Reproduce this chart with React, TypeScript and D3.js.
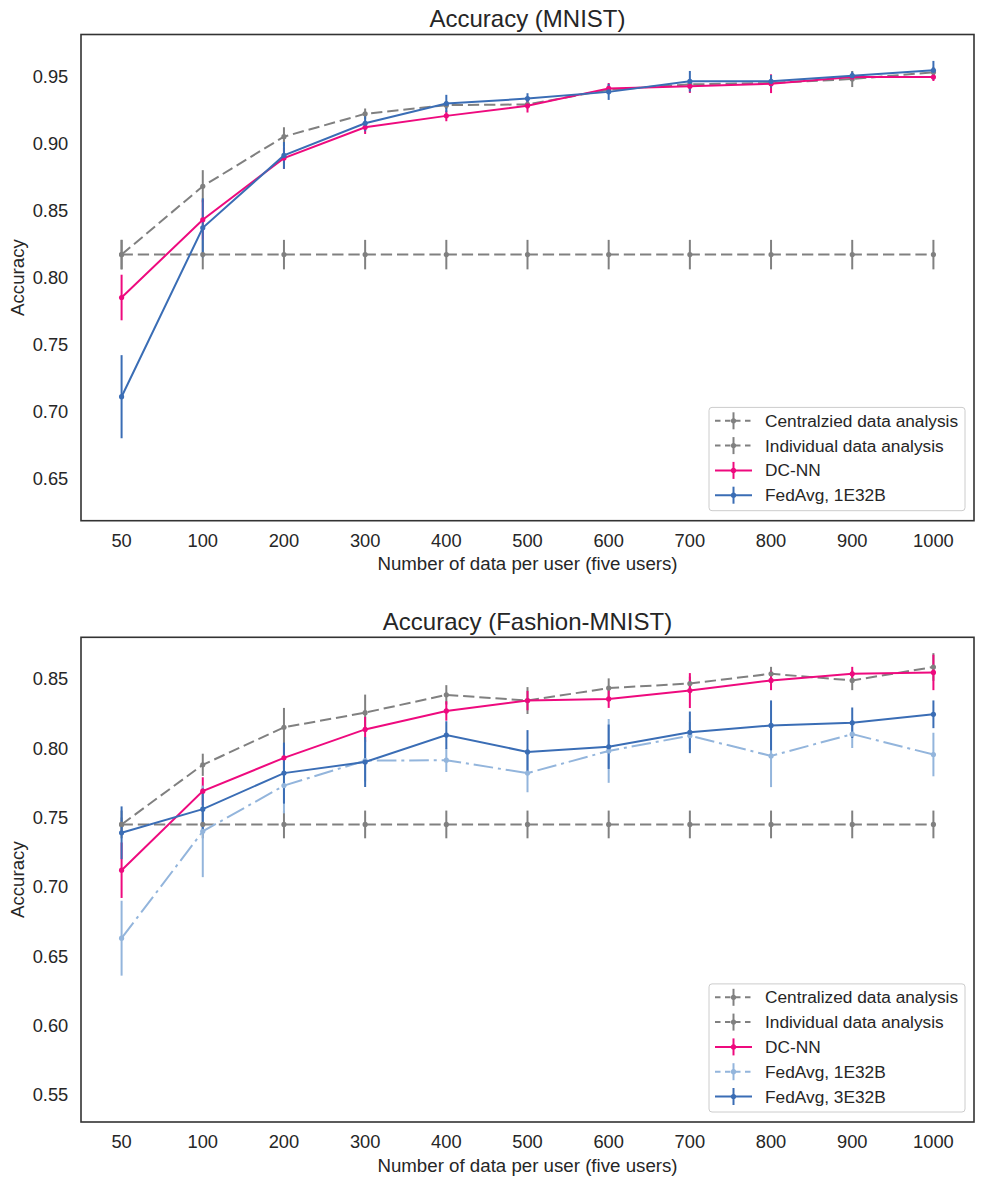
import * as d3 from "d3";
import { useEffect, useRef } from "react";

// x categories (data per user)
const sizes = ["50", "100", "200", "300", "400", "500", "600", "700", "800", "900", "1000"];

// MNIST
const mnistCentral = [0.817, 0.868, 0.905, 0.922, 0.9285, 0.929, 0.94, 0.944, 0.945, 0.948, 0.953];
const mnistCentralErr = [0.011, 0.012, 0.007, 0.004, 0.003, 0.003, 0.003, 0.003, 0.003, 0.006, 0.004];
const mnistIndividual = [0.817, 0.817, 0.817, 0.817, 0.817, 0.817, 0.817, 0.817, 0.817, 0.817, 0.817];
const mnistIndividualErr = [0.011, 0.011, 0.011, 0.011, 0.011, 0.011, 0.011, 0.011, 0.011, 0.011, 0.011];
const mnistDC = [0.785, 0.843, 0.889, 0.912, 0.9205, 0.928, 0.941, 0.9426, 0.9445, 0.9495, 0.9495];
const mnistDCErr = [0.017, 0.015, 0.008, 0.005, 0.004, 0.005, 0.004, 0.005, 0.007, 0.003, 0.003];
const mnistFed1 = [0.711, 0.837, 0.891, 0.915, 0.9297, 0.9334, 0.9384, 0.9463, 0.9463, 0.9505, 0.9545];
const mnistFed1Err = [0.031, 0.022, 0.01, 0.006, 0.0065, 0.004, 0.006, 0.0077, 0.0047, 0.003, 0.007];

// Fashion-MNIST
const fashionCentral = [0.745, 0.788, 0.815, 0.8256, 0.8384, 0.8343, 0.8433, 0.8466, 0.8536, 0.8488, 0.8585];
const fashionCentralErr = [0.005, 0.008, 0.014, 0.013, 0.007, 0.0097, 0.007, 0.005, 0.005, 0.007, 0.01];
const fashionIndividual = [0.745, 0.745, 0.745, 0.745, 0.745, 0.745, 0.745, 0.745, 0.745, 0.745, 0.745];
const fashionIndividualErr = [0.01, 0.01, 0.01, 0.01, 0.01, 0.01, 0.01, 0.01, 0.01, 0.01, 0.01];
const fashionDC = [0.712, 0.769, 0.793, 0.8135, 0.8268, 0.8343, 0.8355, 0.8415, 0.8488, 0.8536, 0.8546];
const fashionDCErr = [0.02, 0.01, 0.008, 0.009, 0.007, 0.007, 0.0065, 0.0126, 0.007, 0.005, 0.0128];
const fashionFed1 = [0.663, 0.74, 0.773, 0.791, 0.7913, 0.782, 0.798, 0.809, 0.7944, 0.8101, 0.7954];
const fashionFed1Err = [0.027, 0.033, 0.02, 0.015, 0.0085, 0.0138, 0.023, 0.01, 0.0225, 0.01, 0.0157];
const fashionFed3 = [0.739, 0.756, 0.782, 0.79, 0.8094, 0.7973, 0.801, 0.8114, 0.8164, 0.8183, 0.8244];
const fashionFed3Err = [0.019, 0.015, 0.022, 0.018, 0.01, 0.0157, 0.016, 0.015, 0.018, 0.011, 0.01];

const GRAY = "#808080";
const PINK = "#ee0a7e";
const BLUE = "#3a6db5";
const LIGHT = "#93b5dc";
const DASH = "11.3,4.9";
const DASHDOT = "19.6,4.9,3,4.9";
const TEXT = "#262626";
const FONT = "'Liberation Sans', Arial, sans-serif";

type Series = { name: string; values: number[]; errors: number[]; color: string; dash: string | null };

const panels = [
  {
    title: "Accuracy (MNIST)",
    top: 34.5,
    bottom: 520.7,
    yDomain: [0.6185, 0.9812],
    series: [
      { name: "Centralzied data analysis", values: mnistCentral, errors: mnistCentralErr, color: GRAY, dash: DASH },
      { name: "Individual data analysis", values: mnistIndividual, errors: mnistIndividualErr, color: GRAY, dash: DASH },
      { name: "DC-NN", values: mnistDC, errors: mnistDCErr, color: PINK, dash: null },
      { name: "FedAvg, 1E32B", values: mnistFed1, errors: mnistFed1Err, color: BLUE, dash: null },
    ] as Series[],
  },
  {
    title: "Accuracy (Fashion-MNIST)",
    top: 637.3,
    bottom: 1122,
    yDomain: [0.5305, 0.8799],
    series: [
      { name: "Centralized data analysis", values: fashionCentral, errors: fashionCentralErr, color: GRAY, dash: DASH },
      { name: "Individual data analysis", values: fashionIndividual, errors: fashionIndividualErr, color: GRAY, dash: DASH },
      { name: "DC-NN", values: fashionDC, errors: fashionDCErr, color: PINK, dash: null },
      { name: "FedAvg, 1E32B", values: fashionFed1, errors: fashionFed1Err, color: LIGHT, dash: DASHDOT },
      { name: "FedAvg, 3E32B", values: fashionFed3, errors: fashionFed3Err, color: BLUE, dash: null },
    ] as Series[],
  },
];

const App = () => {
  const ref = useRef<SVGSVGElement>(null);

  useEffect(() => {
    const svg = d3.select(ref.current);
    const width = 984;
    const height = 1184;
    const left = 81;
    const right = 974;
    svg.attr("width", width).attr("height", height);

    panels.forEach((p) => {
      const x = d3.scalePoint<string>().domain(sizes).range([left, right]).padding(0.5);
      const y = d3.scaleLinear().domain(p.yDomain).range([p.bottom, p.top]);
      const g = svg.append("g");

      // y ticks
      y.ticks(7).forEach((t) => {
        g.append("text")
          .attr("x", left - 12.7)
          .attr("y", y(t))
          .attr("dy", "0.35em")
          .attr("text-anchor", "end")
          .attr("font-size", "18.3px")
          .attr("fill", TEXT)
          .text(d3.format(".2f")(t));
      });
      // x ticks
      sizes.forEach((s) => {
        g.append("text")
          .attr("x", x(s)!)
          .attr("y", p.bottom + 26)
          .attr("text-anchor", "middle")
          .attr("font-size", "18.3px")
          .attr("fill", TEXT)
          .text(s);
      });

      g.append("text")
        .attr("x", (left + right) / 2)
        .attr("y", p.bottom + 49.5)
        .attr("text-anchor", "middle")
        .attr("font-size", "18.7px")
        .attr("fill", TEXT)
        .text("Number of data per user (five users)");

      g.append("text")
        .attr("transform", `translate(24,${(p.top + p.bottom) / 2}) rotate(-90)`)
        .attr("text-anchor", "middle")
        .attr("font-size", "18.7px")
        .attr("fill", TEXT)
        .text("Accuracy");

      g.append("text")
        .attr("x", (left + right) / 2)
        .attr("y", p.top - 7.5)
        .attr("text-anchor", "middle")
        .attr("font-size", "24px")
        .attr("fill", TEXT)
        .text(p.title);

      const plot = g.append("g");
      // error bars sit below every data line (matplotlib zorder)
      p.series.forEach((s) => {
        s.values.forEach((v, i) => {
          plot.append("line")
            .attr("x1", x(sizes[i])!)
            .attr("x2", x(sizes[i])!)
            .attr("y1", y(v - s.errors[i]))
            .attr("y2", y(v + s.errors[i]))
            .attr("stroke", s.color)
            .attr("stroke-width", 2);
        });
      });

      const line = d3.line<number>()
        .x((_, i) => x(sizes[i])!)
        .y((d) => y(d));

      p.series.forEach((s) => {
        plot.append("path")
          .attr("d", line(s.values))
          .attr("fill", "none")
          .attr("stroke", s.color)
          .attr("stroke-width", 2)
          .attr("stroke-dasharray", s.dash ?? null);
        s.values.forEach((v, i) => {
          plot.append("circle")
            .attr("cx", x(sizes[i])!)
            .attr("cy", y(v))
            .attr("r", 2.6)
            .attr("fill", s.color);
        });
      });

      // frame
      g.append("rect")
        .attr("x", left)
        .attr("y", p.top)
        .attr("width", right - left)
        .attr("height", p.bottom - p.top)
        .attr("fill", "none")
        .attr("stroke", "#333333")
        .attr("stroke-width", 1.6);

      // legend
      const n = p.series.length;
      const rowH = 24.8;
      const boxW = 256;
      const boxH = 13.4 + (n - 1) * rowH + 15.5;
      const bx = right - 9 - boxW;
      const by = p.bottom - 10 - boxH;
      const leg = g.append("g");
      leg.append("rect")
        .attr("x", bx)
        .attr("y", by)
        .attr("width", boxW)
        .attr("height", boxH)
        .attr("rx", 3)
        .attr("fill", "white")
        .attr("fill-opacity", 0.8)
        .attr("stroke", "#cccccc")
        .attr("stroke-width", 1);
      p.series.forEach((s, i) => {
        const ry = by + 13.4 + i * rowH;
        const hx = bx + 6;
        leg.append("line")
          .attr("x1", hx)
          .attr("x2", hx + 37)
          .attr("y1", ry)
          .attr("y2", ry)
          .attr("stroke", s.color)
          .attr("stroke-width", 2)
          .attr("stroke-dasharray", s.dash ? "5.5,4.5" : null);
        leg.append("line")
          .attr("x1", hx + 18.5)
          .attr("x2", hx + 18.5)
          .attr("y1", ry - 8.5)
          .attr("y2", ry + 8.5)
          .attr("stroke", s.color)
          .attr("stroke-width", 2);
        leg.append("circle")
          .attr("cx", hx + 18.5)
          .attr("cy", ry)
          .attr("r", 2.6)
          .attr("fill", s.color);
        leg.append("text")
          .attr("x", bx + 56)
          .attr("y", ry)
          .attr("dy", "0.35em")
          .attr("font-size", "17.3px")
          .attr("fill", TEXT)
          .text(s.name);
      });
    });

    return () => {
      svg.selectAll("*").remove();
    };
  }, []);

  return (
    <div style={{ position: "absolute", left: 0, top: 0, background: "white" }}>
      <svg ref={ref} style={{ display: "block", fontFamily: FONT }}></svg>
    </div>
  );
};

export default App;
